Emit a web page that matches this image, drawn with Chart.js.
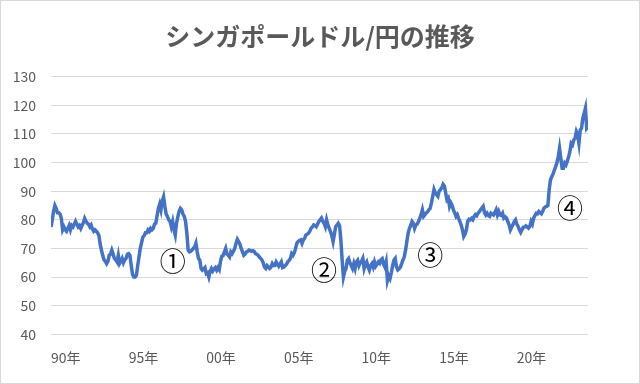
<!DOCTYPE html>
<html><head><meta charset="utf-8">
<script src="https://cdn.jsdelivr.net/npm/chart.js@4.4.0/dist/chart.umd.min.js"></script>
<style>html,body{margin:0;padding:0;background:#fff}#wrap{width:640px;height:384px}</style>
</head><body><div id="wrap"><canvas id="c" width="640" height="384"></canvas></div>
<script>
const chartTitle = 'シンガポールドル/円の推移';
const startYear = 1990;
// Monthly SGD/JPY, Jan 1990 - Aug 2024
const sgdJpy = [
 77.5, 80, 83, 85, 84, 82.5, 82.5, 82, 80.5, 76.5, 77.5, 76.5,
 76, 77, 78, 76.5, 78, 77.5, 78.5, 79.5, 78.5, 77.5, 78, 77,
 78, 79, 80.5, 79.5, 78.8, 78.5, 77.6, 78.2, 76.8, 76, 76.5, 76,
 75.5, 74.5, 71.5, 69.4, 67.5, 66, 65.5, 64.7, 65.5, 67.6, 68, 69.4,
 68, 66.5, 66, 65.3, 67.6, 64.7, 65.5, 66.5, 65, 66, 66.5, 68,
 68.2, 67.6, 64, 61, 60, 60, 60.6, 64, 67, 70, 72, 74,
 74.5, 75.5, 75.5, 76.5, 76, 77, 76.5, 77, 78.5, 78.8, 81.5, 84,
 85.5, 83.5, 86.5, 88, 84.7, 82, 81.2, 80, 79.5, 77.6, 79.4, 76.5,
 74.7, 78.8, 81, 83, 84, 83.5, 82, 81.2, 79.4, 75.3, 69.4, 68.8,
 69, 69.4, 70, 70.5, 71.8, 68.8, 66.5, 65.9, 63, 62.4, 62.8, 63.3,
 61.2, 61.5, 60, 62, 63, 62.1, 62.8, 63.3, 62.4, 63.3, 62.6, 65.5,
 67.3, 67.5, 68.8, 70, 68, 67.6, 67, 68.8, 68.2, 69, 70, 71.8,
 73.2, 72.4, 71.5, 70, 68.8, 67.6, 68, 68.8, 69, 69.4, 69.2, 69,
 69.2, 69, 68.2, 68, 67.6, 67, 66.5, 66, 65, 63.5, 63, 64,
 63.5, 63, 63.5, 64.7, 64, 64, 65.3, 64.5, 63.8, 64.5, 65.3, 63.3,
 63.5, 64, 64.5, 65.3, 65.8, 66.5, 68.2, 67.6, 68.5, 70, 71.8, 72.4,
 72.8, 73, 71.8, 73, 73.5, 74.7, 75, 75.3, 76, 77, 77.5, 78.2,
 78, 77.6, 78.5, 79.4, 80, 80.6, 79.5, 78.8, 77.6, 80, 78.2, 77,
 75.9, 74.5, 72.4, 75, 77.6, 78.2, 78.8, 78, 73, 65.9, 60, 62,
 63, 65.9, 66.5, 65, 64, 63, 64.7, 63, 65.3, 65.9, 64, 65,
 65.5, 66.5, 63, 64.5, 65.3, 63.5, 62.4, 64, 64.7, 63.5, 65.3, 63.8,
 64.5, 65.3, 64.8, 66, 66.4, 64.5, 63.5, 65.3, 58.8, 60.5, 59.5, 61.5,
 64, 65.9, 66.5, 63.5, 62.5, 62.9, 63.5, 64.7, 66, 67, 69.4, 72.4,
 75.3, 77, 78, 79.4, 78.8, 77, 78.2, 78.5, 79.4, 80.5, 81.8, 83.5,
 81.2, 81.8, 82.4, 82.8, 83.5, 84, 85.9, 88.2, 90.6, 89.4, 88.8, 88.2,
 90, 90.5, 91.2, 92.4, 91.8, 89.4, 87, 87.6, 84.7, 85.9, 85, 83.5,
 82.4, 81.2, 81.8, 80.5, 79.4, 78.2, 76.5, 74.2, 75, 76.5, 79.4, 80.2,
 80, 80.5, 80, 81.2, 81.8, 81.4, 82.3, 82.8, 83.5, 84.1, 84.7, 82.5,
 81.7, 82.3, 81.5, 81.2, 82.3, 82, 81.7, 82.5, 83.5, 81.7, 82.9, 81.7,
 81.5, 82.3, 80.6, 81, 80.6, 79.4, 78.3, 76.5, 77.5, 78.3, 79.4, 80,
 78.5, 77.7, 76.5, 75.6, 76.5, 77.4, 77.5, 77.9, 77.5, 77.1, 77.7, 79.4,
 78.5, 80.6, 81.5, 82.3, 82.1, 82.9, 82.5, 82.1, 83, 84.1, 84.5, 84.7,
 85, 90.5, 94, 95.1, 96, 97.4, 98.6, 100, 102, 105, 101.5, 98,
 98, 99.8, 99.2, 100.5, 102, 103.8, 106.7, 106.2, 107.9, 108.5, 110.8, 109.7,
 106.7, 111.4, 112, 115.5, 117.2, 119, 112, 112.6
];
const xTickMonths = [0, 60, 120, 180, 240, 300, 360];
const xTickLabels = ['90年', '95年', '00年', '05年', '10年', '15年', '20年'];
const yMin = 40, yMax = 130, yStep = 10;
const noteLabels = ['①', '②', '③', '④'];
const noteMonths = [94, 211, 293, 401];
const noteValues = [65.4, 62.5, 67.7, 84.1];

const FONT = '"Noto Sans CJK JP", "Noto Sans", sans-serif';
const points = sgdJpy.map((v, i) => ({ x: i, y: v }));

const framePlugin = {
  id: 'frame',
  beforeDraw(chart) {
    const c = chart.ctx;
    c.save(); c.fillStyle = '#fff'; c.fillRect(0, 0, chart.width, chart.height); c.restore();
  },
  afterDraw(chart) {
    const c = chart.ctx;
    c.save();
    c.font = 'bold 25px ' + FONT;
    c.fillStyle = '#595959';
    c.textAlign = 'center';
    c.textBaseline = 'middle';
    c.fillText(chartTitle, chart.width / 2, 36);
    c.strokeStyle = '#d9d9d9'; c.lineWidth = 1;
    c.strokeRect(0.5, 0.5, chart.width - 1, chart.height - 1);
    c.restore();
  }
};
const notePlugin = {
  id: 'notes',
  afterDatasetsDraw(chart) {
    const c = chart.ctx, xs = chart.scales.x, ys = chart.scales.y;
    c.save();
    c.font = '26px ' + FONT;
    c.fillStyle = '#000';
    c.textAlign = 'center';
    c.textBaseline = 'middle';
    noteLabels.forEach((t, i) => {
      c.fillText(t, xs.getPixelForValue(noteMonths[i]), ys.getPixelForValue(noteValues[i]));
    });
    c.restore();
  }
};

new Chart(document.getElementById('c'), {
  type: 'line',
  data: {
    datasets: [{
      data: points,
      borderColor: '#4472C4',
      borderWidth: 3.5,
      pointRadius: 0,
      tension: 0,
      fill: false
    }]
  },
  options: {
    responsive: false,
    animation: false,
    devicePixelRatio: 1,
    layout: { padding: { left: 0, right: 52, top: 76.7, bottom: 0 } },
    plugins: {
      legend: { display: false },
      tooltip: { enabled: false },
      title: { display: false }
    },
    scales: {
      x: {
        type: 'linear',
        min: 0,
        max: sgdJpy.length - 1,
        grid: { display: false, drawTicks: false },
        border: { display: false },
        afterBuildTicks(scale) { scale.ticks = xTickMonths.map(v => ({ value: v })); },
        afterFit(scale) { scale.height = 49.7; },
        ticks: {
          autoSkip: false,
          maxRotation: 0,
          align: 'start',
          padding: 15,
          color: '#595959',
          font: { family: FONT, size: 14 },
          callback(v) { const k = xTickMonths.indexOf(v); return k >= 0 ? xTickLabels[k] : ''; }
        }
      },
      y: {
        min: yMin,
        max: yMax,
        grid: { color: '#d9d9d9', lineWidth: 1, drawTicks: false },
        border: { display: false },
        afterFit(scale) { scale.width = 51; },
        ticks: {
          stepSize: yStep,
          padding: 15,
          color: '#595959',
          font: { family: FONT, size: 14 }
        }
      }
    }
  },
  plugins: [framePlugin, notePlugin]
});
</script>
</body></html>
